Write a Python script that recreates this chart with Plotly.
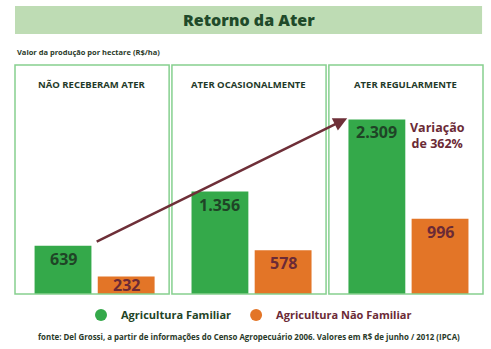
import plotly.graph_objects as go
from plotly.subplots import make_subplots

panels = ["NÃO RECEBERAM ATER", "ATER OCASIONALMENTE", "ATER REGULARMENTE"]
series_names = ["Agricultura Familiar", "Agricultura Não Familiar"]
familiar = [639, 1356, 2309]
nao_familiar = [232, 578, 996]

GREEN = "#34a94a"
ORANGE = "#e37527"
DKGREEN = "#1f4426"
MAROON = "#6b2a36"
BORDER = "#86d08f"
FONT = "Open Sans"
YMAX = 3030
PLOT_H = 229


def fmt(v):
    return f"{v:,}".replace(",", ".")


fig = make_subplots(rows=1, cols=3, horizontal_spacing=0.006)

for i in range(3):
    col = i + 1
    vals = [familiar[i], nao_familiar[i]]
    fig.add_trace(go.Bar(
        x=[0, 1], y=vals,
        marker=dict(color=[GREEN, ORANGE], line=dict(width=0)),
        width=0.9, showlegend=False, hoverinfo="skip",
    ), row=1, col=col)
    fig.update_xaxes(range=[-0.76, 1.68], visible=False, row=1, col=col)
    fig.update_yaxes(range=[0, YMAX], visible=False, row=1, col=col)
    xr = "x" if i == 0 else f"x{col}"
    yr = "y" if i == 0 else f"y{col}"
    for j, v in enumerate(vals):
        bar_px = v * PLOT_H / YMAX
        shift = -min(13, bar_px - 9)
        fig.add_annotation(xref=xr, yref=yr, x=j, y=v, yshift=shift,
                           xanchor="center", yanchor="middle", showarrow=False,
                           text=f"<b>{fmt(v)}</b>",
                           font=dict(family=FONT, size=16, color=[DKGREEN, MAROON][j]))
    fig.add_shape(type="rect", xref=xr + " domain", yref=yr + " domain", x0=0, x1=1, y0=0, y1=1,
                  line=dict(color=BORDER, width=1.5), layer="above")
    fig.add_annotation(xref=xr + " domain", yref="paper", x=0.5, y=0.913,
                       xanchor="center", yanchor="middle",
                       text=f"<b>{panels[i]}</b>",
                       showarrow=False, font=dict(family=FONT, size=9.5, color="#1f3a2a"))

# legend traces
for name, c, tc in [(series_names[0], GREEN, DKGREEN), (series_names[1], ORANGE, MAROON)]:
    fig.add_trace(go.Scatter(x=[None], y=[None], mode="markers",
                             marker=dict(color=c, size=14, symbol="circle"),
                             name=f"<span style='color:{tc};font-weight:bold'>{name}</span>"), row=1, col=1)

# arrow to third green bar
fig.add_annotation(xref="x3", yref="y3", x=-0.47, y=familiar[2] + 15,
                   ax=-252, ay=124, axref="pixel", ayref="pixel",
                   showarrow=True, arrowhead=2, arrowsize=1.1, arrowwidth=2.5,
                   arrowcolor="#6e2f38", text="")

fig.add_annotation(xref="paper", yref="paper", x=0.902, y=0.69, xanchor="center", yanchor="middle",
                   text="<b>Variação<br>de 362%</b>", showarrow=False,
                   font=dict(family=FONT, size=12.5, color=MAROON), align="center")

# title banner
fig.add_shape(type="rect", xref="paper", yref="paper", x0=0, x1=0.998, y0=1.135, y1=1.258,
              fillcolor="#bedcb4", line=dict(width=0), layer="below")
fig.add_annotation(xref="paper", yref="paper", x=0.5, y=1.195, xanchor="center", yanchor="middle",
                   text="Retorno da Ater",
                   showarrow=False, font=dict(family=FONT, size=16, color="#1f4a2a", weight=800))
fig.add_annotation(xref="paper", yref="paper", x=0.0, y=1.057, xanchor="left", yanchor="middle",
                   text="<b>Valor da produção por hectare (R$/ha)</b>", showarrow=False,
                   font=dict(family=FONT, size=7.5, color="#2a3a2a"))
fig.add_annotation(xref="paper", yref="paper", x=0.5, y=-0.188, xanchor="center", yanchor="middle",
                   text="<b>fonte: Del Grossi, a partir de informações do Censo Agropecuário 2006. Valores em R$ de junho / 2012 (IPCA)</b>",
                   showarrow=False, font=dict(family=FONT, size=7.9, color="#2a3a2a"))

fig.update_layout(
    width=491, height=349,
    margin=dict(l=15, r=8, t=65, b=55),
    paper_bgcolor="white", plot_bgcolor="white",
    separators=",.",
    barmode="group",
    legend=dict(orientation="h", x=0.5, xanchor="center", y=-0.092, yanchor="middle",
                font=dict(family=FONT, size=11, weight="bold"), bgcolor="rgba(0,0,0,0)",
                itemsizing="constant"),
    font=dict(family=FONT),
)

fig.write_html("out.html")
